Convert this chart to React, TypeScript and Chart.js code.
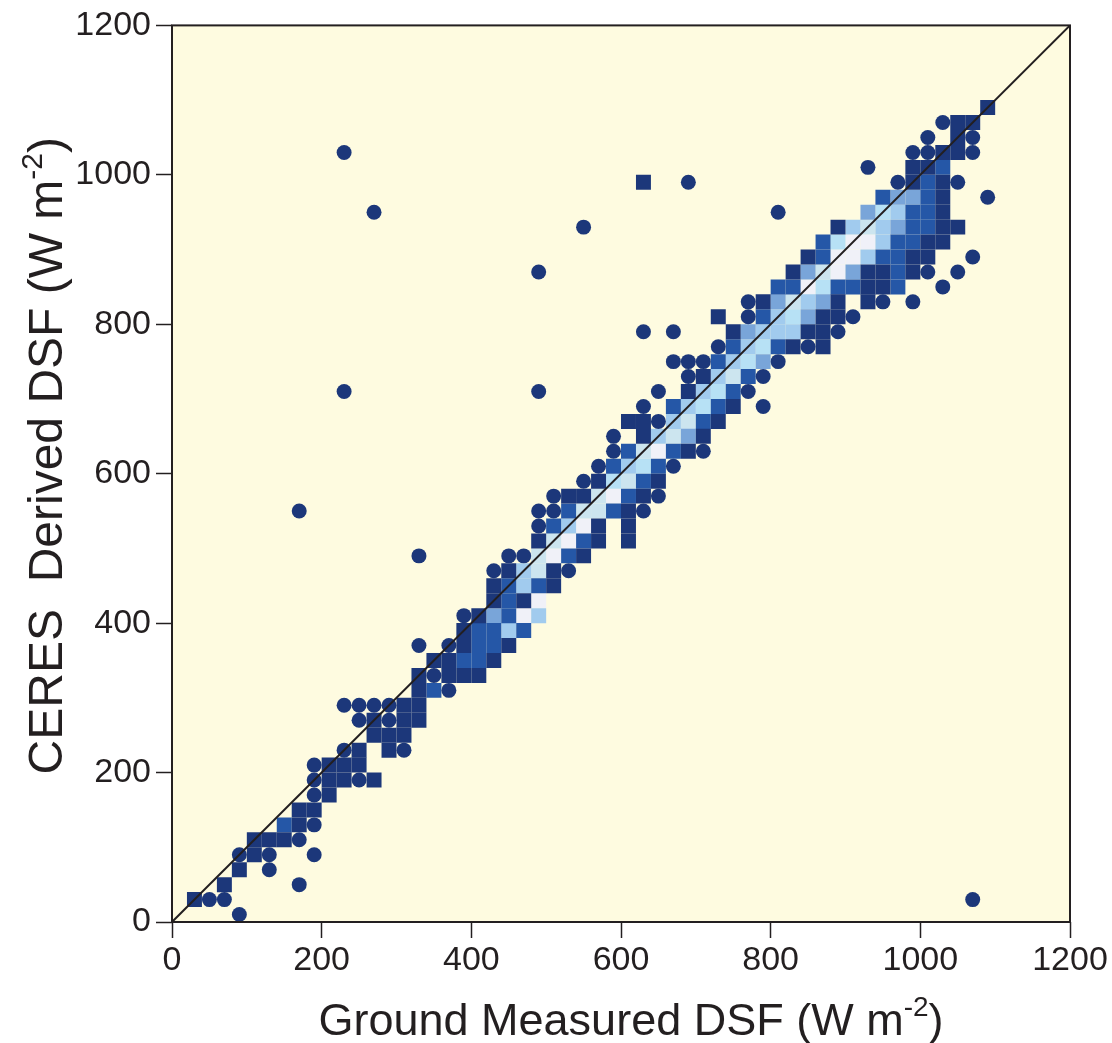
import React, { useEffect, useRef } from "react";
import { Chart, registerables } from "chart.js";

Chart.register(...registerables);

// ---------- data ----------
const axisTicks = [0, 200, 400, 600, 800, 1000, 1200];
const axisMin = 0;
const axisMax = 1200;
const binWidth = 20;

const xTitleMain = "Ground Measured DSF (W m";
const yTitleMain = "CERES  Derived DSF (W m";
const titleSup = "-2";
const titleTail = ")";

const identityX = [0, 1200];
const identityY = [0, 1200];

// cell centres [ground, ceres] by density level (1 = lowest density, 7 = highest)
const level1Cells: [number, number][] = [
  [30, 30], [70, 50], [90, 70], [110, 90], [110, 110], [130, 110], [150, 110],
  [170, 130], [170, 150], [190, 150], [210, 170], [210, 190], [230, 190], [270, 190],
  [210, 210], [230, 210], [250, 210], [250, 230], [290, 230], [270, 250], [290, 250],
  [310, 250], [270, 270], [310, 270], [330, 270], [310, 290], [330, 290], [330, 310],
  [330, 330], [370, 330], [390, 330], [410, 330], [350, 350], [370, 350], [430, 350],
  [390, 370], [450, 370], [390, 390], [410, 410], [430, 430], [470, 430], [430, 450],
  [510, 450], [450, 470], [510, 470], [550, 490], [490, 510], [570, 510], [610, 510],
  [570, 530], [610, 530], [610, 550], [530, 570], [550, 570], [630, 570], [570, 590],
  [650, 590], [690, 630], [630, 650], [710, 650], [610, 670], [630, 670], [730, 670],
  [750, 690], [690, 710], [710, 730], [830, 770], [870, 770], [750, 790], [850, 790],
  [870, 790], [730, 810], [870, 810], [890, 810], [790, 830], [890, 830], [930, 830],
  [930, 850], [950, 850], [830, 870], [930, 870], [950, 870], [990, 870], [850, 890],
  [990, 890], [1010, 890], [1010, 910], [1030, 910], [890, 930], [1030, 930], [1050, 930],
  [1030, 950], [1030, 970], [630, 990], [990, 990], [1030, 990], [990, 1010], [1010, 1010],
  [1030, 1030], [1050, 1030], [1050, 1050], [1050, 1070], [1070, 1070], [1090, 1090],
];

const level2Cells: [number, number][] = [
  [150, 130], [350, 310], [390, 350], [410, 350], [410, 370], [430, 370], [410, 390],
  [430, 390], [470, 390], [450, 410], [450, 430], [450, 450], [490, 450], [530, 490],
  [550, 510], [510, 530], [530, 550], [590, 550], [610, 570], [630, 590], [590, 610],
  [650, 610], [610, 630], [670, 630], [710, 670], [670, 690], [730, 690], [750, 710],
  [770, 730], [730, 750], [750, 770], [810, 770], [790, 810], [810, 850], [830, 850],
  [890, 850], [910, 850], [970, 850], [970, 870], [870, 890], [950, 890], [970, 890],
  [870, 910], [970, 910], [990, 910], [990, 930], [1010, 930], [990, 950], [1010, 950],
  [950, 970], [1010, 970], [1010, 990], [1030, 1010],
];

const level3Cells: [number, number][] = [
  [430, 410], [690, 650], [790, 750], [770, 790], [850, 810], [810, 830], [870, 830],
  [850, 870], [910, 870], [970, 930], [930, 950], [970, 970], [990, 970],
];

const level4Cells: [number, number][] = [
  [450, 390], [490, 410], [470, 450], [470, 470], [530, 530], [610, 610], [650, 650],
  [670, 670], [690, 690], [710, 710], [730, 730], [750, 750], [770, 770], [790, 790],
  [810, 790], [830, 790], [810, 810], [850, 830], [930, 890], [950, 910], [910, 930],
  [950, 930], [970, 950],
];

const level5Cells: [number, number][] = [
  [590, 590], [630, 610], [710, 690], [730, 710], [770, 750], [790, 770], [830, 810],
  [870, 850], [890, 910], [950, 950],
];

const level6Cells: [number, number][] = [
  [490, 470], [490, 490], [510, 510], [550, 550], [570, 550], [570, 570], [610, 590],
  [630, 630], [670, 650], [690, 670], [750, 730], [830, 830], [870, 870], [930, 930],
];

const level7Cells: [number, number][] = [
  [470, 410], [490, 430], [510, 490], [530, 510], [550, 530], [590, 570], [650, 630],
  [850, 850], [890, 870], [890, 890], [910, 890], [910, 910], [930, 910],
];

// single observations
const singlePoints: [number, number][] = [
  [90, 10], [50, 30], [70, 30], [1070, 30], [170, 50], [130, 70], [90, 90], [130, 90],
  [190, 90], [170, 110], [190, 130], [190, 170], [190, 190], [250, 190], [190, 210],
  [230, 230], [310, 230], [250, 270], [290, 270], [230, 290], [250, 290], [270, 290],
  [290, 290], [370, 310], [350, 330], [330, 370], [370, 370], [390, 410], [430, 470],
  [530, 470], [330, 490], [450, 490], [470, 490], [490, 530], [490, 550], [510, 550],
  [630, 550], [170, 550], [510, 570], [650, 570], [550, 590], [570, 610], [670, 610],
  [590, 630], [710, 630], [590, 650], [650, 670], [630, 690], [790, 690], [230, 710],
  [490, 710], [650, 710], [770, 710], [690, 730], [790, 730], [670, 750], [690, 750],
  [710, 750], [810, 750], [730, 770], [850, 770], [630, 790], [670, 790], [890, 790],
  [770, 810], [910, 810], [770, 830], [950, 830], [990, 830], [1030, 850], [490, 870],
  [1010, 870], [1050, 870], [1070, 890], [550, 930], [270, 950], [810, 950], [1090, 970],
  [690, 990], [970, 990], [1050, 990], [930, 1010], [230, 1030], [990, 1030], [1010, 1030],
  [1070, 1030], [1010, 1050], [1070, 1050], [1030, 1070],
];

// ---------- styles ----------
const INK = "#231f20";
const CREAM = "#fefbe0";
const FONT = "'Liberation Sans', Arial, Helvetica, sans-serif";
const levelColors = ["#1c377a", "#2557a7", "#79a5d9", "#a1cbee", "#b7e1f5", "#cce5ef", "#f0f1f8"];
const levelCells = [level1Cells, level2Cells, level3Cells, level4Cells, level5Cells, level6Cells, level7Cells];

const cellPixels = (c: any) => {
  const s = c.chart.scales.x;
  return Math.abs(s.getPixelForValue(binWidth) - s.getPixelForValue(0));
};

function drawSupText(ctx: CanvasRenderingContext2D, main: string, x: number, y: number, size: number) {
  const supSize = Math.round(size * 0.62);
  ctx.font = `${size}px ${FONT}`;
  const w1 = ctx.measureText(main).width;
  const w3 = ctx.measureText(titleTail).width;
  ctx.font = `${supSize}px ${FONT}`;
  const w2 = ctx.measureText(titleSup).width;
  const total = w1 + w2 + w3;
  let sx = x - total / 2;
  ctx.textAlign = "left";
  ctx.textBaseline = "alphabetic";
  ctx.font = `${size}px ${FONT}`;
  ctx.fillText(main, sx, y);
  sx += w1;
  ctx.font = `${supSize}px ${FONT}`;
  ctx.fillText(titleSup, sx, y - size * 0.42);
  sx += w2;
  ctx.font = `${size}px ${FONT}`;
  ctx.fillText(titleTail, sx, y);
}

const framePlugin = {
  id: "frameAndTitles",
  beforeDraw(chart: any) {
    const { ctx, chartArea: a } = chart;
    ctx.save();
    ctx.fillStyle = CREAM;
    ctx.fillRect(a.left, a.top, a.right - a.left, a.bottom - a.top);
    ctx.restore();
  },
  afterDraw(chart: any) {
    const { ctx, chartArea: a } = chart;
    ctx.save();
    ctx.strokeStyle = INK;
    ctx.lineWidth = 2;
    ctx.strokeRect(a.left, a.top, a.right - a.left, a.bottom - a.top);
    ctx.fillStyle = INK;
    const cx = (a.left + a.right) / 2 + 10;
    drawSupText(ctx, xTitleMain, cx, a.bottom + 113, 45);
    ctx.translate(a.left - 110, (a.top + a.bottom) / 2 - 18);
    ctx.rotate(-Math.PI / 2);
    drawSupText(ctx, yTitleMain, 0, 0, 48);
    ctx.restore();
  },
};

export default function App() {
  const ref = useRef<HTMLCanvasElement | null>(null);

  useEffect(() => {
    if (!ref.current) return;

    const cellDatasets = levelCells.map((cells, i) => ({
      label: `level ${i + 1}`,
      data: cells.map(([x, y]) => ({ x, y })),
      backgroundColor: levelColors[i],
      borderWidth: 0,
      pointStyle: "rect" as const,
      pointRadius: (c: any) => cellPixels(c) / Math.SQRT2,
      pointHoverRadius: (c: any) => cellPixels(c) / Math.SQRT2,
      pointBorderWidth: 0,
      showLine: false,
      order: 3,
    }));

    const scaleOpts = (isX: boolean) => ({
      type: "linear" as const,
      min: axisMin,
      max: axisMax,
      afterBuildTicks: (scale: any) => {
        scale.ticks = axisTicks.map((v) => ({ value: v }));
      },
      afterFit: (scale: any) => {
        if (isX) scale.height = 121;
        else scale.width = 172;
      },
      grid: {
        display: true,
        drawOnChartArea: false,
        drawTicks: true,
        tickLength: 16,
        tickWidth: 1.5,
        tickColor: INK,
        color: INK,
      },
      border: { display: false },
      ticks: {
        color: INK,
        font: { family: FONT, size: 34 },
        padding: isX ? 2 : 5,
        autoSkip: false,
        maxRotation: 0,
        minRotation: 0,
        callback: (v: any) => String(v),
      },
    });

    const chart = new Chart(ref.current, {
      type: "scatter",
      data: {
        datasets: [
          {
            label: "1:1",
            data: identityX.map((x, i) => ({ x, y: identityY[i] })),
            showLine: true,
            borderColor: INK,
            borderWidth: 2,
            pointRadius: 0,
            pointHoverRadius: 0,
            order: 1,
          },
          {
            label: "single",
            data: singlePoints.map(([x, y]) => ({ x, y })),
            backgroundColor: levelColors[0],
            borderWidth: 0,
            pointStyle: "circle",
            pointRadius: (c: any) => cellPixels(c) / 2,
            pointHoverRadius: (c: any) => cellPixels(c) / 2,
            pointBorderWidth: 0,
            showLine: false,
            order: 2,
          },
          ...cellDatasets,
        ] as any,
      },
      options: {
        responsive: false,
        animation: false,
        events: [],
        layout: { padding: { top: 24, right: 42, left: 0, bottom: 0 } },
        plugins: {
          legend: { display: false },
          tooltip: { enabled: false },
          title: { display: false },
        },
        scales: {
          x: scaleOpts(true),
          y: scaleOpts(false),
        } as any,
      },
      plugins: [framePlugin],
    });

    return () => chart.destroy();
  }, []);

  return (
    <div style={{ position: "absolute", left: 0, top: 0, width: 1112, height: 1043, background: "#ffffff" }}>
      <canvas ref={ref} width={1112} height={1043} style={{ display: "block" }} />
    </div>
  );
}
